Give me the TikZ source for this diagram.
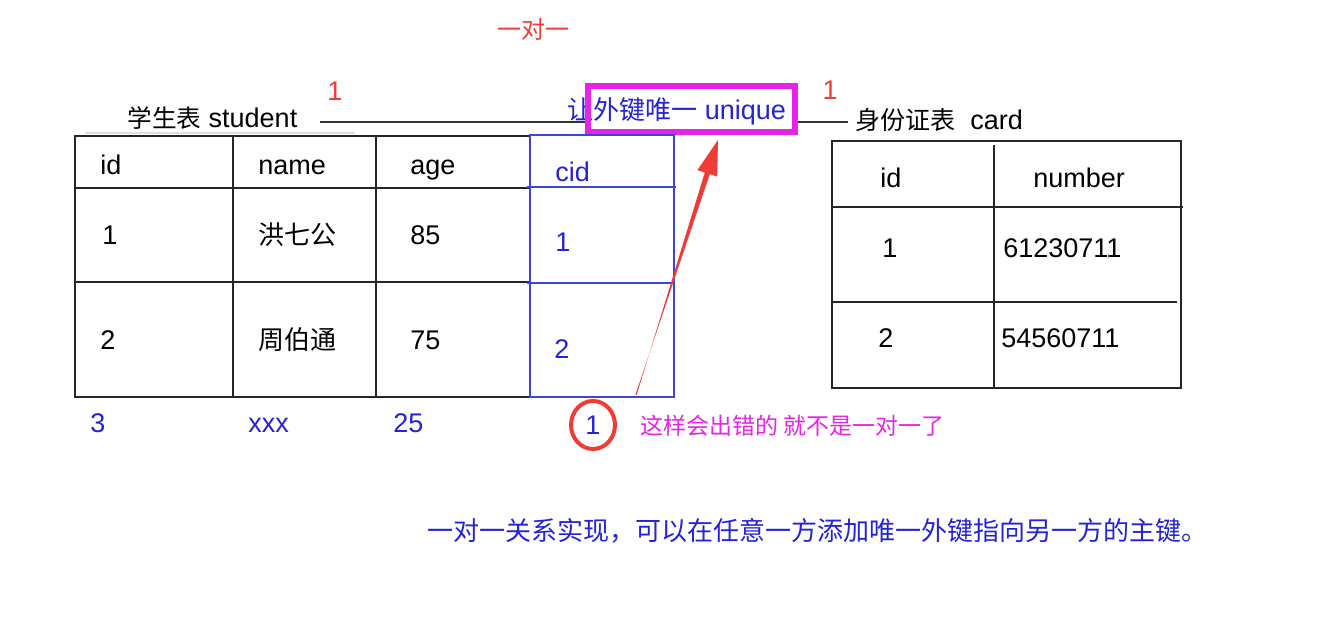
\documentclass[tikz,border=0pt]{standalone}
\usepackage{fontspec}
\setmainfont{Liberation Sans}
\newfontfamily\zhfont{Noto Sans CJK SC}
\usepackage{tikz}
\usetikzlibrary{calc}
\definecolor{keyblue}{RGB}{35,35,215}
\definecolor{lineblue}{RGB}{60,70,210}
\definecolor{markred}{RGB}{240,60,55}
\definecolor{notemag}{RGB}{232,35,232}
\newcommand{\zh}[2][12]{{\zhfont\fontsize{#1}{#1}\selectfont #2}}
\tikzset{
	txt/.style={anchor=base west,inner sep=0pt,font=\fontsize{13.5}{16}\selectfont},
	bluetxt/.style={txt,text=keyblue},
	tbl/.style={line width=0.75pt,black!85},
	bluetbl/.style={line width=0.75pt,lineblue}
}
\begin{document}
\begin{tikzpicture}[x=0.5pt,y=-0.5pt]
\useasboundingbox[fill=white] (0,0) rectangle (1328,620);
% title
\node[txt,text=markred] (title) at (497,39) {\zh{一对一}};
% link line with the unique key box
\draw[line width=0.6pt,black!80] (320,122) -- (848,122);
\draw[gray!25,line width=0.6pt] (85,133) -- (355,133);
\fill[white] (588,86) rectangle (795,132);
\node[bluetxt] (uniq) at (567,120) {\zh[13]{让外键唯一} unique};
\draw[notemag,line width=3.3pt] (588,86) rectangle (795,132);
\node[txt,text=markred,anchor=base] (oneL) at (335,101) {1};
\node[txt,text=markred,anchor=base] (oneR) at (830,100) {1};
% student table
\node[txt] (stu) at (127,128) {\zh[12.3]{学生表} student};
\draw[tbl] (530,136) -- (75,136) -- (75,397) -- (530,397)
	(75,188) -- (530,188) (75,282) -- (530,282)
	(233,136) -- (233,397) (376,136) -- (376,397);
\draw[bluetbl] (530,135) rectangle (674,397)
	(527,187) -- (676,187) (527,283) -- (674,283);
\node[txt] (sid) at (100,175) {id};
\node[txt] (sname) at (258,175) {name};
\node[txt] (sage) at (410,175) {age};
\node[bluetxt] (scid) at (555,182) {cid};
\node[txt] (sid1) at (102,245) {1};
\node[txt] (sname1) at (258,245) {\zh[13]{洪七公}};
\node[txt] (sage1) at (410,245) {85};
\node[bluetxt] (scid1) at (555,252) {1};
\node[txt] (sid2) at (100,350) {2};
\node[txt] (sname2) at (258,350) {\zh[13]{周伯通}};
\node[txt] (sage2) at (410,350) {75};
\node[bluetxt] (scid2) at (554,358) {2};
% wrong extra row
\node[bluetxt] (sid3) at (90,432) {3};
\node[bluetxt] (sname3) at (248,432) {xxx};
\node[bluetxt] (sage3) at (393,432) {25};
\node[bluetxt,anchor=base] (scid3) at (593,434) {1};
\draw[markred,line width=2pt] (593,425) ellipse [x radius=22,y radius=24];
\node[txt,text=notemag] (wrong) at (640,434) {\zh[11.5]{这样会出错的 就不是一对一了}};
% arrow up to the box
\coordinate (arrtail) at (636,395);
\coordinate (arrtip) at (718,140);
\coordinate (arrbase) at ($(arrtip)!17.5pt!(arrtail)$);
\fill[markred] ($(arrtail)!0.3pt!90:(arrtip)$) -- ($(arrbase)!1.3pt!-90:(arrtip)$)
	-- ($(arrbase)!5.2pt!-90:(arrtip)$) -- (arrtip) -- ($(arrbase)!5.2pt!90:(arrtip)$)
	-- ($(arrbase)!1.3pt!90:(arrtip)$) -- ($(arrtail)!0.3pt!-90:(arrtip)$) -- cycle;
% card table
\node[txt] (crd) at (855,130) {\zh[12.5]{身份证表}\ \ card};
\draw[tbl] (832,141) rectangle (1181,388)
	(832,207) -- (1183,207) (832,302) -- (1177,302) (994,145) -- (994,388);
\node[txt] (cid) at (880,188) {id};
\node[txt] (cnum) at (1033,188) {number};
\node[txt] (cid1) at (882,258) {1};
\node[txt] (cnum1) at (1003,258) {61230711};
\node[txt] (cid2) at (878,348) {2};
\node[txt] (cnum2) at (1001,348) {54560711};
% note at the bottom
\node[txt,text=keyblue] (note) at (427,540) {\zh[13]{一对一关系实现，可以在任意一方添加唯一外键指向另一方的主键。}};
\end{tikzpicture}
\end{document}
